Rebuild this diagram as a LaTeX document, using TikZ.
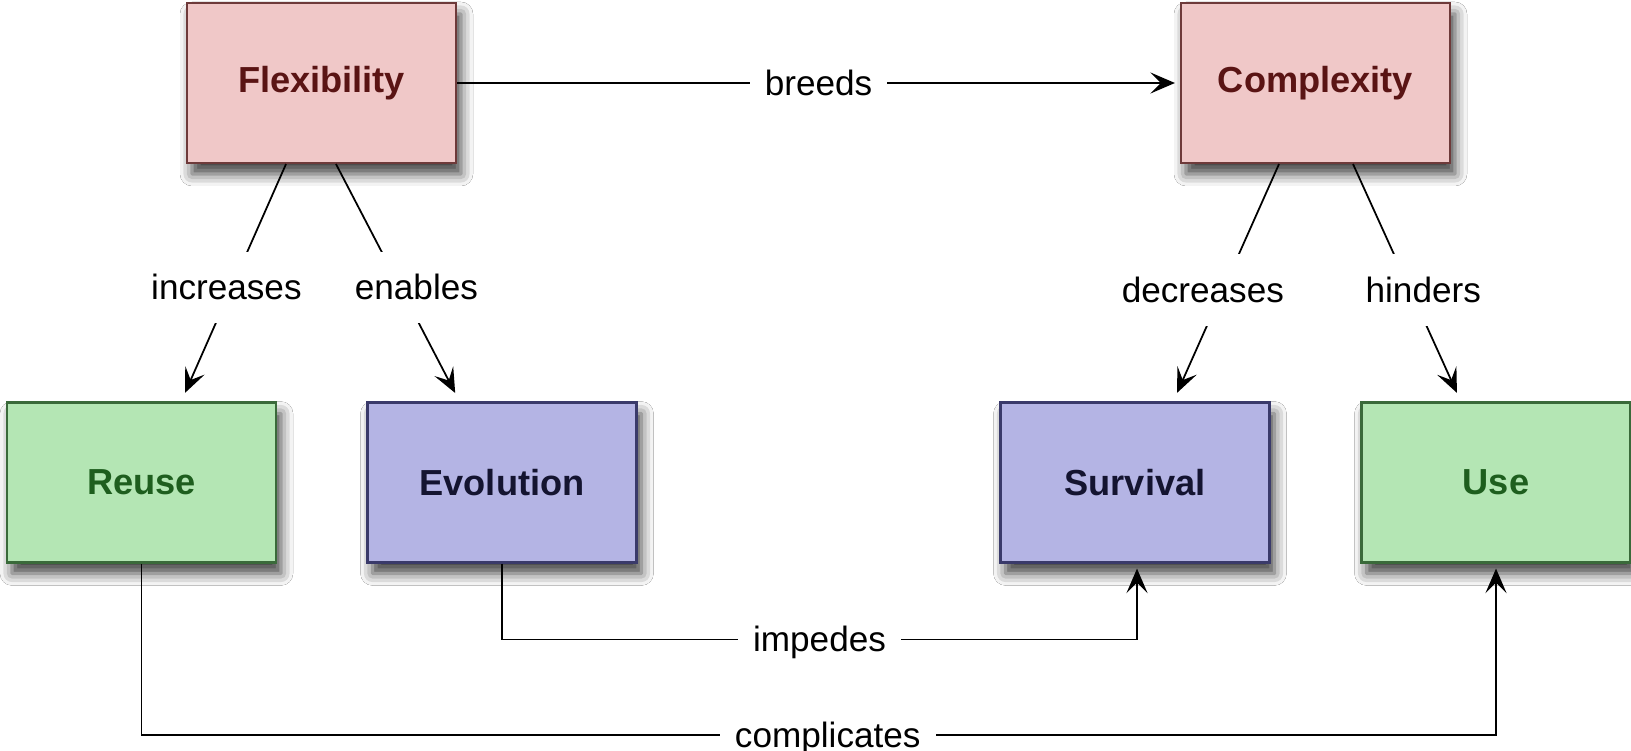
\documentclass[tikz,border=0pt]{standalone}
\usepackage{fontspec}
\setmainfont{Liberation Sans}
\usetikzlibrary{arrows.meta,shadows.blur}
\definecolor{pink1}{HTML}{F0C8C8}
\definecolor{pink2}{HTML}{6E3A3A}
\definecolor{pink3}{HTML}{5A1414}
\definecolor{green1}{HTML}{B4E6B4}
\definecolor{green2}{HTML}{3A6A3A}
\definecolor{green3}{HTML}{1E5E1E}
\definecolor{blue1}{HTML}{B4B4E4}
\definecolor{blue2}{HTML}{3A3A6A}
\definecolor{blue3}{HTML}{141430}
\tikzset{
  box/.style={rectangle, minimum width=2.69cm, minimum height=1.6cm, line width=0.6pt,
    font=\fontsize{10.3}{12}\selectfont\bfseries,
    blur shadow={shadow xshift=0.05cm, shadow yshift=-0.11cm, shadow blur radius=0.12cm, shadow opacity=75}},
  pinkbox/.style={box, draw=pink2, fill=pink1, text=pink3},
  greenbox/.style={box, draw=green2, fill=green1, text=green3},
  bluebox/.style={box, draw=blue2, fill=blue1, text=blue3},
  verb/.style={fill=white, inner xsep=0.15cm, inner ysep=0.18cm, text height=1.6ex, text depth=0.3ex,
    font=\fontsize{10}{12}\selectfont},
  link/.style={-{Stealth[length=7pt,width=6pt,inset=3pt]}, line width=0.5pt, shorten >=0.05cm}
}
\begin{document}
\begin{tikzpicture}
\fill[white] (0,0) rectangle (16.31,7.5);
\useasboundingbox (0,0) rectangle (16.31,7.5);
% concepts
\node[pinkbox] (flex) at (3.215,6.67) {Flexibility};
\node[pinkbox] (comp) at (13.155,6.67) {Complexity};
\node[greenbox] (reuse) at (1.415,2.675) {Reuse};
\node[bluebox] (evol) at (5.02,2.675) {Evolution};
\node[bluebox] (surv) at (11.35,2.675) {Survival};
\node[greenbox] (use) at (14.96,2.675) {Use};
% relations
\draw[link] (flex) -- node[verb] {breeds} (comp);
\draw[link] ([xshift=-0.355cm]flex.south) -- node[verb,pos=0.53,xshift=-0.05cm] {increases} ([xshift=0.415cm,yshift=0.04cm]reuse.north);
\draw[link] ([xshift=0.145cm]flex.south) -- node[verb,pos=0.53,xshift=0.16cm] {enables} ([xshift=-0.445cm,yshift=0.04cm]evol.north);
\draw[link] ([xshift=-0.365cm]comp.south) -- node[verb,pos=0.54,xshift=-0.2cm] {decreases} ([xshift=0.4cm,yshift=0.04cm]surv.north);
\draw[link] ([xshift=0.375cm]comp.south) -- node[verb,pos=0.54,xshift=0.13cm] {hinders} ([xshift=-0.37cm,yshift=0.04cm]use.north);
%
\draw[link] (evol.south) -- ++(0,-0.76) -| node[verb,pos=0.25] {impedes} ([xshift=0.02cm]surv.south);
\draw[link] (reuse.south) -- ++(0,-1.715) -| node[verb,pos=0.25,xshift=0.09cm] {complicates} (use.south);
\end{tikzpicture}
\end{document}
